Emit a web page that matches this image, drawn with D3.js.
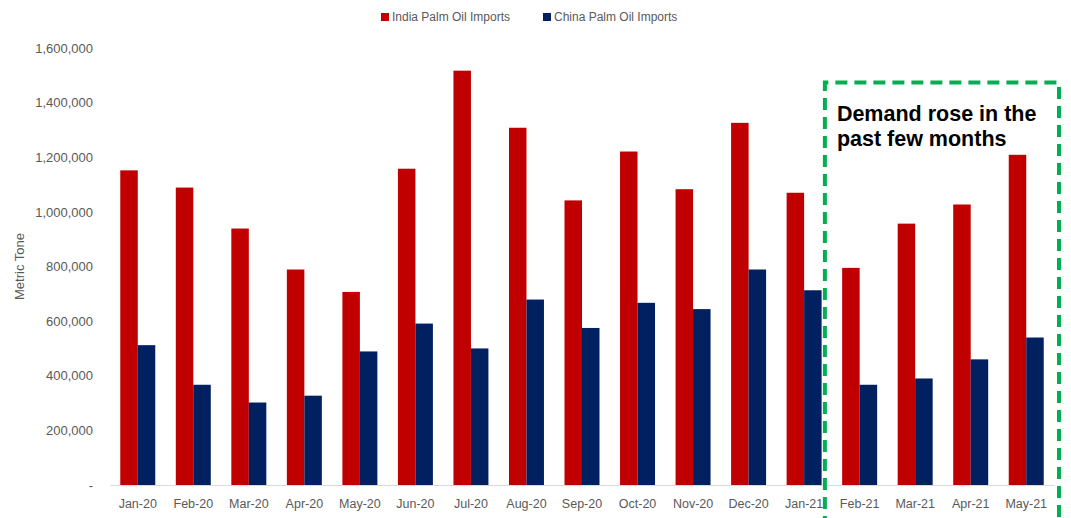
<!DOCTYPE html>
<html>
<head>
<meta charset="utf-8">
<script src="https://cdn.jsdelivr.net/npm/d3@7"></script>
<style>
  html, body { margin: 0; padding: 0; background: #fff; }
  svg { display: block; font-family: "Liberation Sans", Arial, sans-serif; }
</style>
</head>
<body>
<svg id="chart" width="1071" height="518"></svg>
<script>
// Monthly palm oil imports (metric tonnes)
const months = ["Jan-20","Feb-20","Mar-20","Apr-20","May-20","Jun-20","Jul-20","Aug-20",
                "Sep-20","Oct-20","Nov-20","Dec-20","Jan-21","Feb-21","Mar-21","Apr-21","May-21"];
const indiaImports = [1152000,1089000,939000,789000,707000,1158000,1517000,1308000,
                      1042000,1221000,1083000,1326000,1070000,795000,957000,1027000,1209000];
const chinaImports = [512000,367000,302000,327000,489000,591000,500000,679000,
                      575000,667000,644000,789000,713000,367000,390000,460000,540000];
const seriesNames = ["India Palm Oil Imports","China Palm Oil Imports"];
const yTicks = [0,200000,400000,600000,800000,1000000,1200000,1400000,1600000];
const highlightMonths = ["Feb-21","May-21"];
const noteLines = ["Demand rose in the","past few months"];

const colors = { "India Palm Oil Imports": "#c00000", "China Palm Oil Imports": "#002060" };

const svg = d3.select("#chart");
const margin = { left: 110, right: 17, top: 48, bottom: 33 };
const W = 1071, H = 518;

const x0 = d3.scaleBand()
  .domain(months)
  .range([margin.left, W - margin.right])
  .paddingInner(0.37)
  .paddingOuter(0.185);

const x1 = d3.scaleBand()
  .domain(seriesNames)
  .range([0, x0.bandwidth()]);

const y = d3.scaleLinear()
  .domain([0, 1600000])
  .range([H - margin.bottom, margin.top]);

const rows = months.map((m, i) => ({
  month: m,
  values: [
    { name: seriesNames[0], value: indiaImports[i] },
    { name: seriesNames[1], value: chinaImports[i] }
  ]
}));

// y axis: labels only
const fmt = v => v === 0 ? "-" : d3.format(",")(v);
const yAxis = svg.append("g")
  .attr("transform", `translate(${margin.left - 15},0)`)
  .call(d3.axisLeft(y).tickValues(yTicks).tickFormat(fmt).tickSize(0).tickPadding(2));
yAxis.select(".domain").remove();
yAxis.selectAll("text")
  .attr("fill", "#595959")
  .style("font-size", "13px")
  .style("font-family", "'Liberation Sans', Arial, sans-serif");

// bars
const groups = svg.append("g").selectAll("g")
  .data(rows)
  .join("g")
  .attr("transform", d => `translate(${x0(d.month)},0)`);

groups.selectAll("rect")
  .data(d => d.values)
  .join("rect")
  .attr("x", d => x1(d.name))
  .attr("width", x1.bandwidth())
  .attr("y", d => y(d.value))
  .attr("height", d => y(0) - y(d.value))
  .attr("fill", d => colors[d.name]);

// x axis
const xAxis = svg.append("g")
  .attr("transform", `translate(0,${y(0)})`)
  .call(d3.axisBottom(x0).tickSize(0).tickPadding(14));
xAxis.select(".domain").attr("stroke", "#d9d9d9").attr("stroke-width", 1.2);
xAxis.selectAll("text")
  .attr("fill", "#595959")
  .style("font-size", "12.5px")
  .style("font-family", "'Liberation Sans', Arial, sans-serif");

// y axis title
svg.append("text")
  .attr("transform", `translate(24,${(y(0) + y(1600000)) / 2}) rotate(-90)`)
  .attr("text-anchor", "middle")
  .attr("fill", "#595959")
  .style("font-size", "13px")
  .text("Metric Tone");

// legend
const legend = svg.append("g").attr("transform", "translate(381,10)");
const legendOffsets = [0, 162];
seriesNames.forEach((name, i) => {
  const g = legend.append("g").attr("transform", `translate(${legendOffsets[i]},0)`);
  g.append("rect").attr("x", 0).attr("y", 3).attr("width", 8).attr("height", 8).attr("fill", colors[name]);
  g.append("text").attr("x", 11).attr("y", 11)
    .attr("fill", "#595959")
    .style("font-size", "12px")
    .text(name);
});

// highlight box around recent months
const boxLeft = x0(highlightMonths[0]) - (x0.step() - x0.bandwidth()) / 2 - 7;
const boxRight = x0(highlightMonths[1]) + x0.bandwidth() + (x0.step() - x0.bandwidth()) / 2 + 5;
svg.append("path")
  .attr("d", `M${boxLeft},${H + 10} L${boxLeft},82.5 L${boxRight},82.5 L${boxRight},${H + 10}`)
  .attr("fill", "none")
  .attr("stroke", "#00b050")
  .attr("stroke-width", 4)
  .attr("stroke-dasharray", "12,7");

svg.append("g")
  .selectAll("text")
  .data(noteLines)
  .join("text")
  .attr("x", boxLeft + 12)
  .attr("y", (d, i) => 121 + i * 25)
  .attr("fill", "#000")
  .style("font-size", "21.5px")
  .style("font-weight", "bold")
  .style("font-family", "'Liberation Sans', Arial, sans-serif")
  .text(d => d);
</script>
</body>
</html>
